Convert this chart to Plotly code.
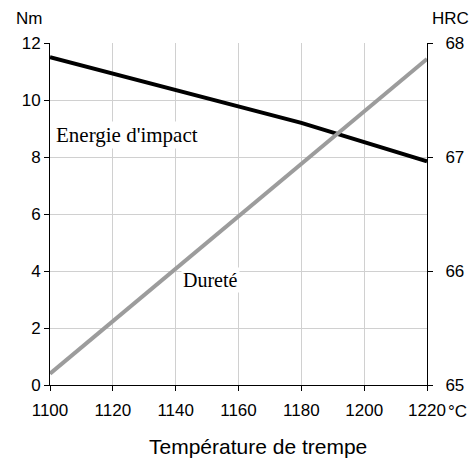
import plotly.graph_objects as go

temps_energy = [1100, 1180, 1220]
energy_nm = [11.5, 9.2, 7.85]
temps_hard = [1100, 1220]
hardness_hrc = [65.1, 67.86]

x_ticks = [1100, 1120, 1140, 1160, 1180, 1200, 1220]
y_ticks = [0, 2, 4, 6, 8, 10, 12]
y2_ticks = [65, 66, 67, 68]

sans = "Liberation Sans, Arial, sans-serif"
serif = "Liberation Serif, Times New Roman, serif"

fig = go.Figure()
fig.add_trace(go.Scatter(x=temps_energy, y=energy_nm, mode="lines",
                         line=dict(color="black", width=4), yaxis="y", showlegend=False))
fig.add_trace(go.Scatter(x=temps_hard, y=hardness_hrc, mode="lines",
                         line=dict(color="#9c9c9c", width=4), yaxis="y2", showlegend=False))

fig.update_layout(
    width=470, height=459,
    margin=dict(l=50, r=43, t=43, b=74),
    paper_bgcolor="white", plot_bgcolor="white",
    font=dict(family=sans, size=17, color="black"),
    xaxis=dict(range=[1100, 1220], tickvals=x_ticks, ticktext=[str(v) for v in x_ticks],
               showgrid=True, gridcolor="#d0d0d0", gridwidth=1,
               showline=True, linecolor="black", linewidth=1,
               ticks="outside", ticklen=5, tickcolor="black", zeroline=False,
               ticklabelstandoff=5, automargin=False,
               tickfont=dict(family=sans, size=17)),
    yaxis=dict(range=[0, 12], tickvals=y_ticks,
               showgrid=True, gridcolor="#d0d0d0", gridwidth=1,
               showline=True, linecolor="black", linewidth=1,
               ticks="outside", ticklen=5, tickcolor="black", zeroline=False,
               automargin=False,
               tickfont=dict(family=sans, size=17)),
    yaxis2=dict(range=[65, 68], tickvals=y2_ticks, overlaying="y", side="right",
                showgrid=False, showline=True, linecolor="black", linewidth=1,
                ticks="outside", ticklen=5, tickcolor="black", zeroline=False,
                ticklabelstandoff=9, automargin=False,
                tickfont=dict(family=sans, size=17)),
    annotations=[
        dict(text="Energie d'impact", x=1101.3, y=8.77, xref="x", yref="y",
             xanchor="left", yanchor="middle", showarrow=False, bgcolor="white",
             font=dict(family=serif, size=21)),
        dict(text="Dureté", x=1151.1, y=3.68, xref="x", yref="y",
             xanchor="center", yanchor="middle", showarrow=False, bgcolor="white",
             font=dict(family=serif, size=20)),
        dict(text="Nm", x=-0.0557, y=1.073, xref="paper", yref="paper",
             xanchor="center", yanchor="middle", showarrow=False,
             font=dict(family=sans, size=17)),
        dict(text="HRC", x=1.062, y=1.073, xref="paper", yref="paper",
             xanchor="center", yanchor="middle", showarrow=False,
             font=dict(family=sans, size=17)),
        dict(text="°C", x=1.05, y=-0.078, xref="paper", yref="paper",
             xanchor="left", yanchor="middle", showarrow=False,
             font=dict(family=sans, size=17)),
        dict(text="Température de trempe", x=0.552, y=-0.179, xref="paper", yref="paper",
             xanchor="center", yanchor="middle", showarrow=False,
             font=dict(family=sans, size=21)),
    ],
)

fig.write_html("out.html", config={"displayModeBar": False},
               post_script="document.body.style.margin='0px';document.body.style.overflow='hidden';")
